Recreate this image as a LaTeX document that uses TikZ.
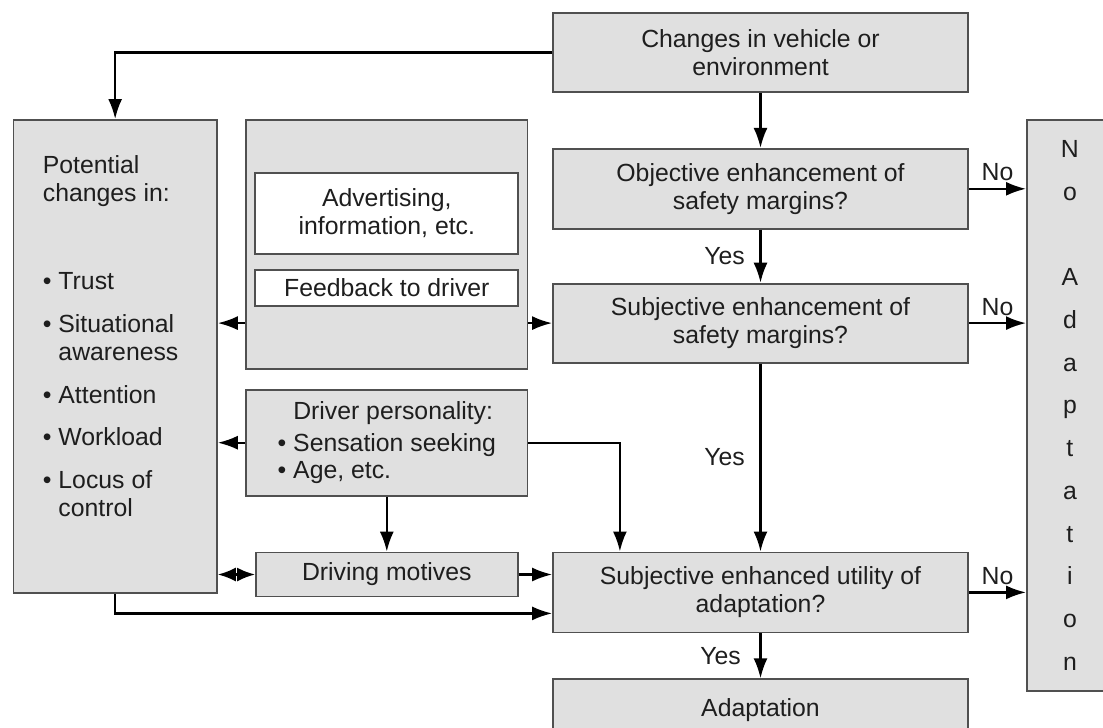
\documentclass[tikz,border=0pt]{standalone}
\usepackage{fontspec}
\setmainfont{Liberation Sans}
\usepackage{tikz}
\usetikzlibrary{arrows.meta,positioning,calc}
\definecolor{boxGrey}{HTML}{E0E0E0}
\definecolor{edgeGrey}{HTML}{505050}
\definecolor{txtGrey}{HTML}{1E1E1E}

\begin{document}
\begin{tikzpicture}[
  font=\fontsize{12.4}{14}\selectfont,
  text=txtGrey,
  box/.style={draw=edgeGrey,fill=boxGrey,line width=0.9pt,inner sep=2pt,
              align=center,minimum width=207.5pt},
  wbox/.style={box,fill=white,minimum width=131.5pt},
  ar/.style={-{Latex[length=10pt,width=7pt]},line width=1.1pt},
  arr/.style={{Latex[length=9pt,width=7pt]}-{Latex[length=9pt,width=7pt]},line width=1.1pt}]

\path[use as bounding box,clip] (0,0) rectangle (551.5pt,-364pt);

% decision column
\node[box,minimum height=39.5pt] (chg) at (380.25pt,-26.25pt) {Changes in vehicle or\\environment};
\node[box,below=27.5pt of chg,minimum height=40pt] (obj) {Objective enhancement of\\safety margins?};
\node[box,below=26.5pt of obj,minimum height=39.5pt] (subj) {Subjective enhancement of\\safety margins?};
\node[box,below=94pt of subj,minimum height=40pt] (util) {Subjective enhanced utility of\\adaptation?};
\node[box,below=22.5pt of util,minimum height=31pt] (adapt) {Adaptation};

\node[box,anchor=north west,minimum width=43pt,minimum height=285.5pt,
      font=\fontsize{12.4}{21.35}\selectfont] (noad) at (513pt,-59.5pt)
     {N\\o\\[21.35pt]A\\d\\a\\p\\t\\a\\t\\i\\o\\n};

% left side
\node[box,anchor=north west,minimum width=101.75pt,minimum height=236.5pt] (pot) at (6.25pt,-59.5pt) {};
\node[anchor=north west,inner sep=0pt,align=left] (potTxt) at ($(pot.north west)+(15pt,-18pt)$)
     {Potential\\changes in:\\[30pt]%
      \textbullet\ Trust\\[7.5pt]%
      \textbullet\ Situational\\\hphantom{\textbullet\ }awareness\\[7.5pt]%
      \textbullet\ Attention\\[7pt]%
      \textbullet\ Workload\\[7.5pt]%
      \textbullet\ Locus of\\\hphantom{\textbullet\ }control};

\node[box,right=13.7pt of pot.north east,anchor=north west,minimum width=140.7pt,minimum height=124.5pt] (mid) {};
\node[wbox,below=26.5pt of mid.north,minimum height=40.5pt] (adv) {Advertising,\\information, etc.};
\node[wbox,below=7pt of adv,minimum height=18pt] (fb) {Feedback to driver};

\node[box,below=9.5pt of mid,minimum width=140.7pt,minimum height=53pt,align=left] (pers)
     {\hphantom{\textbullet\ }Driver personality:\\[2pt]\textbullet\ Sensation seeking\\[-0.5pt]\textbullet\ Age, etc.};
\node[box,below=27.5pt of pers,minimum width=130.8pt,minimum height=22pt] (mot) {Driving motives};

\coordinate (utilIn) at ($(util.north west)+(33.9pt,0)$);
\coordinate (utilLow) at ($(util.west)+(0,-10.5pt)$);

% connectors
\draw[ar] (chg.west) -| (pot.north);
\draw[ar] (chg) -- (obj);
\draw[ar] (obj) -- node[left=4pt]{Yes} (subj);
\draw[ar] (subj) -- node[left=4pt]{Yes} (util);
\draw[ar] (util) -- node[left=6pt]{Yes} (adapt);
\draw[ar] (obj.east) -- node[above]{No} (obj.east -| noad.west);
\draw[ar] (subj.east) -- node[above]{No} (subj.east -| noad.west);
\draw[ar] (util.east) -- node[above]{No} (util.east -| noad.west);
\draw[ar] (mid.west |- subj.west) -- (pot.east |- subj.west);
\draw[ar] (mid.east |- subj.west) -- (subj.west);
\draw[ar] (pers.west) -- (pot.east |- pers.west);
\draw[ar] (pers) -- (mot);
\draw[ar] (pers.east) -| (utilIn);
\draw[arr] (pot.east |- mot.west) -- (mot.west);
\draw[ar] (mot.east) -- (util.west |- mot.east);
\draw[ar] (pot.south) |- (utilLow);
\end{tikzpicture}
\end{document}
